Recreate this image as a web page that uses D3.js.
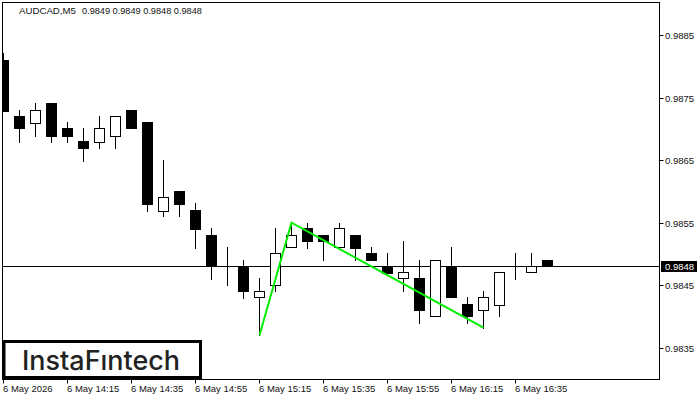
<!DOCTYPE html>
<html><head><meta charset="utf-8">
<script src="https://cdn.jsdelivr.net/npm/d3@7/dist/d3.min.js"></script>
<style>html,body{margin:0;padding:0;background:#fff;}svg{display:block;}</style>
</head><body>
<script>
const symbolName = "AUDCAD,M5";
const titleValues = ["0.9849","0.9849","0.9848","0.9848"];
const openV  = [0.98810,0.98721,0.98710,0.98742,0.98702,0.98681,0.98680,0.98689,0.98730,0.98711,0.98569,0.98601,0.98570,0.98530,0.98490,0.98480,0.98431,0.98450,0.98511,0.98541,0.98530,0.98511,0.98530,0.98502,0.98480,0.98461,0.98461,0.98400,0.98480,0.98420,0.98410,0.98419,0.98480,0.98471,0.98490];
const highV  = [0.98821,0.98730,0.98742,0.98742,0.98711,0.98702,0.98721,0.98721,0.98730,0.98711,0.98650,0.98601,0.98582,0.98541,0.98511,0.98490,0.98461,0.98541,0.98550,0.98550,0.98530,0.98550,0.98530,0.98511,0.98502,0.98521,0.98490,0.98490,0.98511,0.98431,0.98441,0.98471,0.98502,0.98502,0.98490];
const lowV   = [0.98729,0.98680,0.98689,0.98680,0.98680,0.98649,0.98670,0.98670,0.98701,0.98569,0.98560,0.98560,0.98510,0.98460,0.98450,0.98430,0.98370,0.98440,0.98511,0.98510,0.98490,0.98511,0.98490,0.98490,0.98470,0.98440,0.98390,0.98400,0.98431,0.98390,0.98382,0.98400,0.98460,0.98471,0.98480];
const closeV = [0.98729,0.98701,0.98730,0.98689,0.98689,0.98670,0.98702,0.98721,0.98701,0.98580,0.98591,0.98580,0.98540,0.98480,0.98490,0.98440,0.98441,0.98502,0.98530,0.98520,0.98520,0.98541,0.98510,0.98490,0.98470,0.98471,0.98410,0.98490,0.98431,0.98400,0.98431,0.98471,0.98480,0.98480,0.98480];
const timeLabels = ["6 May 2026","6 May 14:15","6 May 14:35","6 May 14:55","6 May 15:15","6 May 15:35","6 May 15:55","6 May 16:15","6 May 16:35"];
const timeLabelIdx = [0,4,8,12,16,20,24,28,32];
const priceTicks = [0.9885,0.9875,0.9865,0.9855,0.9845,0.9835];
const currentPrice = 0.9848;
const patternIdx = [16,18,30];
const patternVal = [0.98370,0.98550,0.98382];

const W=700,H=400, L=2.5, T=2.5, R=659.5, B=379.5;
const svg = d3.select("body").append("svg").attr("width",W).attr("height",H);
const x = d3.scaleLinear().domain([0,34]).range([3.5,547.5]);
const y = d3.scaleLinear().domain([0.9885,0.9835]).range([35.3,347.7]);
const py = v => Math.round(y(v)) + 0.5;
const font = "'Liberation Sans', Arial, sans-serif";

svg.append("defs").append("clipPath").attr("id","clip").append("rect")
  .attr("x",L).attr("y",T).attr("width",R-L).attr("height",B-T);

// title: symbol at left, values after a double gap
const t1 = svg.append("text").attr("x",19).attr("y",14).attr("font-family",font).attr("font-size",9.8)
  .attr("fill","#111").text(symbolName);
const t2 = svg.append("text").attr("x",82).attr("y",14).attr("font-family",font).attr("font-size",9.8)
  .attr("fill","#111").text(titleValues.join(" "));
// fit to reference extents
try {
  const w1 = t1.node().getComputedTextLength();
  if (w1 > 0) t1.attr("font-size", 9.8 * 57 / w1);
  const w2 = t2.node().getComputedTextLength();
  if (w2 > 0) t2.attr("font-size", 9.8 * 120 / w2);
} catch(e) {}

svg.append("line").attr("x1",L).attr("x2",R).attr("y1",py(currentPrice)).attr("y2",py(currentPrice))
  .attr("stroke","#000").attr("stroke-width",1);

const g = svg.append("g").attr("clip-path","url(#clip)");
const idx = d3.range(openV.length);
g.selectAll("line.wick").data(idx).join("line").attr("class","wick")
  .attr("x1",i=>x(i)).attr("x2",i=>x(i))
  .attr("y1",i=>py(highV[i])-0.5).attr("y2",i=>py(lowV[i])+0.5)
  .attr("stroke","#000").attr("stroke-width",1);
g.selectAll("rect.body").data(idx).join("rect").attr("class","body")
  .attr("x",i=>x(i)-5).attr("width",10)
  .attr("y",i=>py(Math.max(openV[i],closeV[i])))
  .attr("height",i=>Math.max(0,py(Math.min(openV[i],closeV[i]))-py(Math.max(openV[i],closeV[i]))))
  .attr("fill",i=>closeV[i]<openV[i]?"#000":"#fff")
  .attr("stroke","#000").attr("stroke-width",1);

g.append("path").datum(patternIdx.map((k,j)=>[x(k),y(patternVal[j])]))
  .attr("d",d3.line()).attr("fill","none").attr("stroke","#00ee00").attr("stroke-width",2);

svg.append("rect").attr("x",L).attr("y",T).attr("width",R-L).attr("height",B-T)
  .attr("fill","none").attr("stroke","#000").attr("stroke-width",1);

const ya = svg.append("g");
priceTicks.forEach(v=>{
  ya.append("line").attr("x1",R).attr("x2",R+4).attr("y1",py(v)).attr("y2",py(v)).attr("stroke","#000");
  ya.append("text").attr("x",665).attr("y",py(v)+3.5).attr("font-family",font).attr("font-size",9.5)
    .attr("fill","#111").text(v.toFixed(4));
});
svg.append("rect").attr("x",661).attr("y",py(currentPrice)-5.5).attr("width",36).attr("height",11).attr("fill","#000");
svg.append("text").attr("x",665).attr("y",py(currentPrice)+3.5).attr("font-family",font).attr("font-size",9.5)
  .attr("fill","#fff").text(currentPrice.toFixed(4));

timeLabelIdx.forEach((k,j)=>{
  const xx = Math.round(x(k)-0.5)+0.5;
  svg.append("line").attr("x1",xx).attr("x2",xx).attr("y1",B).attr("y2",B+4).attr("stroke","#000");
  svg.append("text").attr("x",xx-0.5).attr("y",392).attr("font-family",font).attr("font-size",9.5)
    .attr("fill","#111").text(timeLabels[j]);
});

svg.append("rect").attr("x",4).attr("y",341.5).attr("width",196.5).attr("height",36)
  .attr("fill","#fff").attr("stroke","#000").attr("stroke-width",3);
svg.append("text").attr("x",22).attr("y",369.5).attr("font-family","Inter, 'Noto Sans', sans-serif")
  .attr("font-size",27).attr("font-weight",500).attr("fill","#222")
  .attr("textLength",158).attr("lengthAdjust","spacingAndGlyphs").text("InstaFıntech");
</script>
</body></html>
